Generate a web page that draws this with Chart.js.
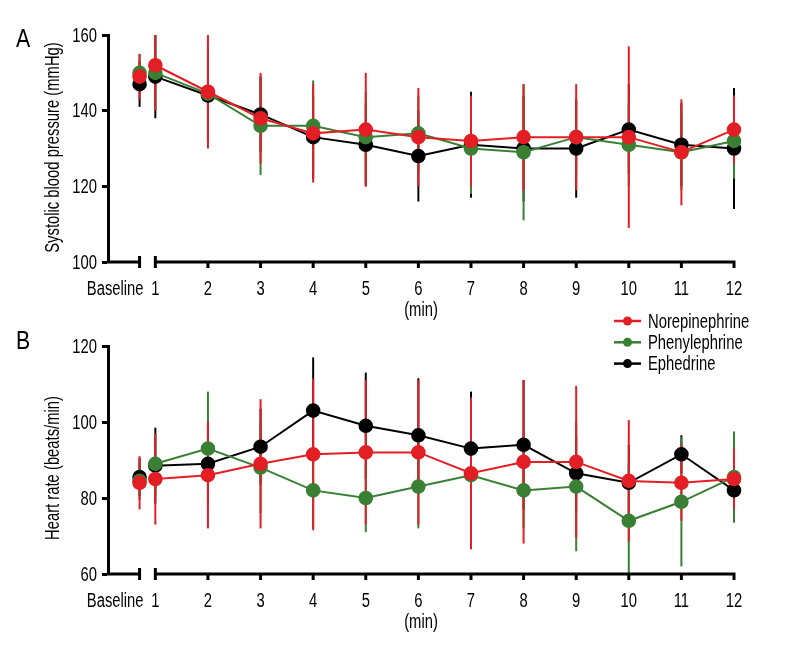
<!DOCTYPE html>
<html>
<head>
<meta charset="utf-8">
<script src="https://cdn.jsdelivr.net/npm/chart.js@4.4.1/dist/chart.umd.min.js"></script>
<style>
  html, body { margin: 0; padding: 0; background: #fff; }
  #wrap { position: relative; width: 800px; height: 660px; }
  canvas { position: absolute; left: 0; }
  #chartA { top: 0; }
  #chartB { top: 311px; }
</style>
</head>
<body>
<div id="wrap">
  <canvas id="chartA" width="800" height="330"></canvas>
  <canvas id="chartB" width="800" height="349"></canvas>
</div>
<script>
// time points: baseline, then minutes 1..12
const timeLabels = ['Baseline', '1', '2', '3', '4', '5', '6', '7', '8', '9', '10', '11', '12'];
const seriesNames = ['Norepinephrine', 'Phenylephrine', 'Ephedrine'];

// A - systolic blood pressure (mmHg), mean and SD
const sbpNor = [149, 152, 145, 138, 134, 135, 133, 132, 133, 133, 133, 129, 135];
const sbpNorSd = [6, 12, 15, 12, 13, 15, 13, 12, 14, 14, 24, 14, 9];
const sbpPhe = [150, 150, 144.5, 136, 136, 133, 134, 130, 129, 133, 131, 129, 132];
const sbpPheSd = [5, 10, 12, 13, 12, 12, 10, 12, 18, 10, 11, 10, 10];
const sbpEph = [147, 149, 144, 139, 133, 131, 128, 131, 130, 130, 135, 131, 130];
const sbpEphSd = [6, 11, 12, 10, 11, 11, 12, 14, 14, 13, 12, 11, 16];
const sbpTicks = [100, 120, 140, 160];

// B - heart rate (beats/min), mean and SD
const hrNor = [84, 85, 86, 89, 91.5, 92, 92, 86.5, 89.5, 89.5, 84.5, 84, 85];
const hrNorSd = [7, 12, 14, 17, 20, 19, 19, 20, 21.5, 20, 16, 10, 8];
const hrPhe = [84.5, 89, 93, 88, 82, 80, 83, 86, 82, 83, 74, 79, 85.5];
const hrPheSd = [5, 8, 15, 12, 10, 9, 11, 10, 10, 17, 15, 17, 12];
const hrEph = [85.5, 88.5, 89, 93.5, 103, 99, 96.5, 93, 94, 86.5, 84, 91.5, 82];
const hrEphSd = [5, 10, 9, 10, 14, 14, 15, 15, 17, 10, 10, 5, 5];
const hrTicks = [60, 80, 100, 120];

const RED = 'rgb(227,30,36)';
const GREEN = 'rgb(58,128,52)';
const BLACK = '#000';
const FONT = "'Liberation Sans', Arial, sans-serif";

// baseline sits just left of the axis break
const BASELINE_X = 0.7;
const xOf = i => i === 0 ? BASELINE_X : i;

// condensed text: Liberation Sans squeezed horizontally
function txt(ctx, s, x, y, size, align, rot, squeeze) {
  ctx.save();
  ctx.translate(x, y);
  if (rot) ctx.rotate(rot);
  ctx.scale(squeeze || 0.74, 1);
  ctx.font = size + 'px ' + FONT;
  ctx.fillStyle = '#000';
  ctx.textAlign = align || 'center';
  ctx.textBaseline = 'middle';
  ctx.fillText(s, 0, 0);
  ctx.restore();
}

function makeDataset(label, color, means, sds) {
  return {
    label: label,
    data: means.map((v, i) => ({ x: xOf(i), y: v, sd: sds[i] })),
    borderColor: color,
    backgroundColor: color,
    pointBackgroundColor: color,
    pointBorderColor: color,
    borderWidth: 2,
    pointRadius: 6.3,
    pointHoverRadius: 6.3,
    clip: false,
    // no line from baseline to minute 1
    segment: { borderColor: ctx => ctx.p0DataIndex === 0 ? 'rgba(0,0,0,0)' : undefined }
  };
}

const errorBars = {
  id: 'errorBars',
  beforeDatasetsDraw(chart) {
    const ctx = chart.ctx, a = chart.chartArea;
    const ys = chart.scales.y;
    ctx.save();
    ctx.beginPath();
    ctx.rect(a.left, a.top, a.right - a.left + 10, a.bottom - a.top);
    ctx.clip();
    for (let d = chart.data.datasets.length - 1; d >= 0; d--) {
      const ds = chart.data.datasets[d];
      const meta = chart.getDatasetMeta(d);
      ctx.strokeStyle = ds.borderColor;
      ctx.lineWidth = 2;
      ds.data.forEach((p, i) => {
        const x = meta.data[i].x;
        ctx.beginPath();
        ctx.moveTo(x, ys.getPixelForValue(p.y + p.sd));
        ctx.lineTo(x, ys.getPixelForValue(p.y - p.sd));
        ctx.stroke();
      });
    }
    ctx.restore();
  }
};

const axesText = {
  id: 'axesText',
  afterDraw(chart, args, opts) {
    const ctx = chart.ctx, a = chart.chartArea;
    const xs = chart.scales.x, ys = chart.scales.y;
    const y0 = a.bottom;
    const xb = xs.getPixelForValue(BASELINE_X);
    const x1 = xs.getPixelForValue(1);
    const x12 = xs.getPixelForValue(12);
    ctx.save();
    ctx.strokeStyle = '#000';
    ctx.lineWidth = 3;
    ctx.lineCap = 'butt';
    ctx.beginPath();
    ctx.moveTo(a.left - 1, y0); ctx.lineTo(xb, y0);
    ctx.moveTo(x1, y0); ctx.lineTo(x12 + 1.5, y0);
    ctx.moveTo(xb, y0 - 6); ctx.lineTo(xb, y0 + 6);
    ctx.moveTo(x1, y0 - 6); ctx.lineTo(x1, y0 + 6);
    for (let i = 2; i <= 12; i++) {
      const x = xs.getPixelForValue(i);
      ctx.moveTo(x, y0); ctx.lineTo(x, y0 + 6);
    }
    ctx.stroke();
    ctx.restore();

    timeLabels.forEach((t, i) => {
      const x = xs.getPixelForValue(xOf(i));
      if (i === 0) txt(ctx, t, x + 4, y0 + 27, 20, 'right');
      else txt(ctx, t, x, y0 + 27, 20, 'center');
    });
    txt(ctx, '(min)', (a.left + a.right) / 2, y0 + 48, 20, 'center');

    opts.ticks.forEach(v => txt(ctx, String(v), a.left - 11, ys.getPixelForValue(v) + 1, 20, 'right'));
    txt(ctx, opts.title, 53, (a.top + a.bottom) / 2 + opts.titleShift, 20, 'center', -Math.PI / 2);
    txt(ctx, opts.letter, 23, opts.letterY, 25, 'center', 0, 0.85);
  }
};

const drawnLegend = {
  id: 'drawnLegend',
  afterDraw(chart, args, opts) {
    if (!opts.show) return;
    const ctx = chart.ctx;
    chart.data.datasets.forEach((ds, i) => {
      const y = opts.top + i * 21.3;
      ctx.save();
      ctx.strokeStyle = ds.borderColor;
      ctx.fillStyle = ds.borderColor;
      ctx.lineWidth = 2.5;
      ctx.beginPath();
      ctx.moveTo(614, y); ctx.lineTo(641, y);
      ctx.stroke();
      ctx.beginPath();
      ctx.arc(627.5, y, 4.5, 0, Math.PI * 2);
      ctx.fill();
      ctx.restore();
      txt(ctx, ds.label, 648, y + 1, 20, 'left');
    });
  }
};

function buildChart(id, means, sds, ticks, title, padBottom, letter, letterY, titleShift, showLegend) {
  const colors = [RED, GREEN, BLACK];
  const datasets = seriesNames.map((n, k) => makeDataset(n, colors[k], means[k], sds[k]));
  return new Chart(document.getElementById(id), {
    type: 'line',
    data: { datasets: datasets },
    plugins: [errorBars, axesText, drawnLegend],
    options: {
      responsive: false,
      animation: false,
      events: [],
      layout: { padding: { top: 35, bottom: padBottom, left: 0, right: 66 } },
      scales: {
        x: { type: 'linear', min: 0.1, max: 12, display: false },
        y: {
          min: ticks[0],
          max: ticks[ticks.length - 1],
          afterBuildTicks: s => { s.ticks = ticks.map(v => ({ value: v })); },
          afterFit: s => { s.width = 108; },
          border: { display: true, color: '#000', width: 3 },
          grid: { drawOnChartArea: false, tickLength: 6, tickWidth: 3, tickColor: '#000' },
          ticks: { display: false },
          title: { display: false }
        }
      },
      plugins: {
        legend: { display: false },
        tooltip: { enabled: false },
        axesText: { ticks: ticks, title: title, letter: letter, letterY: letterY, titleShift: titleShift },
        drawnLegend: { show: showLegend, top: 10 }
      }
    }
  });
}

buildChart('chartA', [sbpNor, sbpPhe, sbpEph], [sbpNorSd, sbpPheSd, sbpEphSd], sbpTicks,
  'Systolic blood pressure (mmHg)', 68, 'A', 40, -1, false);
buildChart('chartB', [hrNor, hrPhe, hrEph], [hrNorSd, hrPheSd, hrEphSd], hrTicks,
  'Heart rate (beats/min)', 86, 'B', 31, 8, true);
</script>
</body>
</html>
